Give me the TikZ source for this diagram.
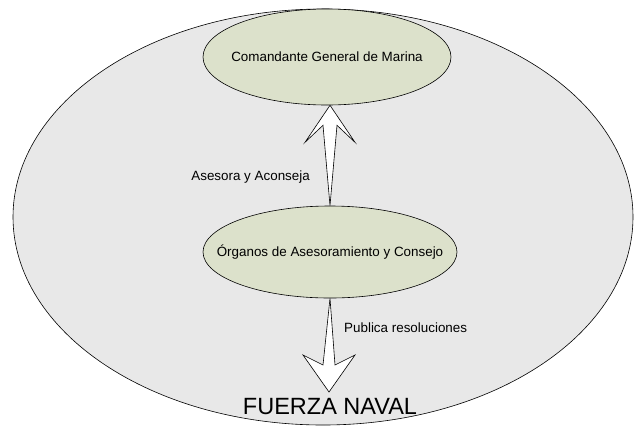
\documentclass[tikz,border=0pt]{standalone}
\usepackage{fontspec}
\setmainfont{Liberation Sans}
\usetikzlibrary{shapes.geometric,calc}
\definecolor{outerfill}{RGB}{232,232,232}
\definecolor{unitfill}{RGB}{220,225,203}
\begin{document}
\begin{tikzpicture}[x=1pt,y=-1pt,
  region/.style={ellipse,draw=black,line width=0.6pt,fill=outerfill,inner sep=0pt},
  unit/.style={ellipse,draw=black,line width=0.6pt,fill=unitfill,inner sep=0pt},
  note/.style={font=\fontsize{13.4}{15}\selectfont,inner sep=0pt},
  flow/.style={draw=black,fill=white,line width=0.6pt,line join=miter}]
\useasboundingbox (0,0) rectangle (634,426);

% outer region: the naval force
\node[region,minimum width=620pt,minimum height=416pt] (fleet) at (323,217) {};
\node[font=\fontsize{23.5}{26}\selectfont,inner sep=0pt] (fleetname) at (330,407) {FUERZA NAVAL};

% command and advisory bodies
\node[unit,minimum width=248pt,minimum height=96pt] (cgm) at (327,57) {};
\node[note] (cgmtext) at (cgm.center) {Comandante General de Marina};
\node[unit,minimum width=254pt,minimum height=92pt] (oac) at (330,252) {};
\node[note] (oactext) at (oac.center) {Órganos de Asesoramiento y Consejo};

% upward arrow: advice to the commander
\coordinate (uptip) at (cgm.south -| oac.north);
\draw[flow] (oac.north) -- ($(uptip)+(7,20)$) -- ($(uptip)+(25,37)$) -- (uptip)
  -- ($(uptip)+(-25,37)$) -- ($(uptip)+(-7,20)$) -- cycle;

% downward arrow: resolutions published to the force
\coordinate (dntip) at (329,392);
\draw[flow] (oac.south) -- ($(dntip)+(6,-27)$) -- ($(dntip)+(26,-37)$) -- (dntip)
  -- ($(dntip)+(-26,-37)$) -- ($(dntip)+(-6,-27)$) -- cycle;

\node[note,anchor=east] (advlabel) at (310,177) {Asesora y Aconseja};
\node[note,anchor=west] (publabel) at (344,328) {Publica resoluciones};
\end{tikzpicture}
\end{document}
